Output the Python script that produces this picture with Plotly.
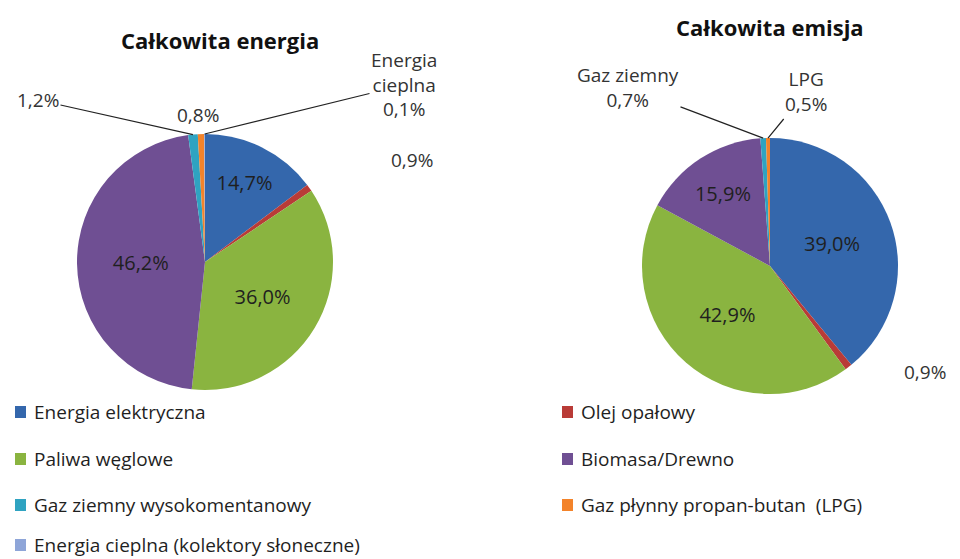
import math
import plotly.graph_objects as go

# ---- data ----
categories = ["Energia elektryczna", "Olej opałowy", "Paliwa węglowe", "Biomasa/Drewno",
              "Gaz ziemny wysokomentanowy", "Gaz płynny propan-butan  (LPG)",
              "Energia cieplna (kolektory słoneczne)"]
energy_values = [14.7, 0.9, 36.0, 46.2, 1.2, 0.8, 0.1]
emission_values = [39.0, 0.9, 42.9, 15.9, 0.7, 0.5, 0.0]
colors = ['#3467AC', '#B93B37', '#8AB440', '#6F4F93', '#2FA3C1', '#F3832A', '#8EA5D8']
titles = ["Całkowita energia", "Całkowita emisja"]

# page offset (body margin) compensation
OFF = 8
W, H = 960 - OFF, 559 - OFF
FONT = "Open Sans"
TXT = "#1F1F1F"
LBL = "#333333"


def fmt(v):
    return ("%.1f" % v).replace(".", ",") + "%"


def px(x):
    return (x - OFF) / W


def py(y):
    return 1 - (y - OFF) / H


# pie geometry (pixels in window)
pies = [
    dict(values=energy_values, cx=205, cy=262, r=128, inside_min=5),
    dict(values=emission_values, cx=770, cy=266, r=128, inside_min=5),
]

fig = go.Figure()
for p in pies:
    texts = [fmt(v) if v >= p["inside_min"] else "" for v in p["values"]]
    fig.add_trace(go.Pie(
        labels=categories, values=p["values"], text=texts, textinfo="text",
        textposition="inside", insidetextorientation="horizontal",
        sort=False, direction="clockwise", rotation=0,
        marker=dict(colors=colors, line=dict(width=0)),
        textfont=dict(family=FONT, size=20, color=TXT),
        showlegend=False,
        domain=dict(x=[px(p["cx"] - p["r"]), px(p["cx"] + p["r"])],
                    y=[py(p["cy"] + p["r"]), py(p["cy"] - p["r"])]),
    ))


def tip(p, idx, frac=1.0):
    vals = p["values"]
    tot = sum(vals)
    before = sum(vals[:idx])
    th = math.radians((before + vals[idx] / 2) / tot * 360)
    return (p["cx"] + p["r"] * frac * math.sin(th), p["cy"] - p["r"] * frac * math.cos(th))


annotations = []
# titles
for t, (tx, ty) in zip(titles, [(220, 40), (770, 27)]):
    annotations.append(dict(x=px(tx), y=py(ty), text="<b>" + t + "</b>", showarrow=False,
                            xanchor="center", yanchor="middle",
                            font=dict(family=FONT, size=22, color="#111111"),
                            xref="paper", yref="paper"))

# outside labels for small slices: (pie index, slice index, text x, y, leader line?)
small_labels = [
    (0, 4, 38, 100, True),
    (0, 5, 198, 115, False),
    (0, 6, 404, 85, True),
    (0, 1, 412, 160, False),
    (1, 4, 628, 87, True),
    (1, 5, 806, 92, True),
    (1, 1, 925, 372, False),
]
for pi, si, tx, ty, arrow in small_labels:
    p = pies[pi]
    v = p["values"][si]
    if pi == 0 and si == 6:
        t = "Energia<br>cieplna<br>" + fmt(v)
    elif pi == 1 and si == 4:
        t = "Gaz ziemny<br>" + fmt(v)
    elif pi == 1 and si == 5:
        t = "LPG<br>" + fmt(v)
    else:
        t = fmt(v)
    base = dict(xref="paper", yref="paper", text=t, xanchor="center", yanchor="middle",
                font=dict(family=FONT, size=19, color=LBL), align="center")
    if arrow:
        tx0, ty0 = tip(p, si)
        annotations.append(dict(base, x=px(tx0), y=py(ty0), showarrow=True, arrowhead=0,
                                arrowwidth=1.2, arrowcolor="#222222",
                                ax=tx - tx0, ay=ty - ty0, standoff=0))
    else:
        annotations.append(dict(base, x=px(tx), y=py(ty), showarrow=False))

# custom legend (two columns, row-major)
shapes = []
col_x = [15, 562]
row_y = [412, 459, 505, 545]
for i, (name, c) in enumerate(zip(categories, colors)):
    r, col = divmod(i, 2)
    x0, y0 = col_x[col], row_y[r]
    shapes.append(dict(type="rect", xref="paper", yref="paper",
                       x0=px(x0), x1=px(x0 + 11), y0=py(y0 + 6), y1=py(y0 - 6),
                       fillcolor=c, line=dict(width=0)))
    annotations.append(dict(x=px(x0 + 17), y=py(y0), xref="paper", yref="paper",
                            xanchor="left", yanchor="middle", text=name, showarrow=False,
                            font=dict(family=FONT, size=19, color=TXT)))

fig.update_layout(
    width=W, height=H, margin=dict(l=0, r=0, t=0, b=0),
    paper_bgcolor="white", plot_bgcolor="white",
    annotations=annotations, shapes=shapes,
    font=dict(family=FONT),
)
fig.write_html("out.html")
